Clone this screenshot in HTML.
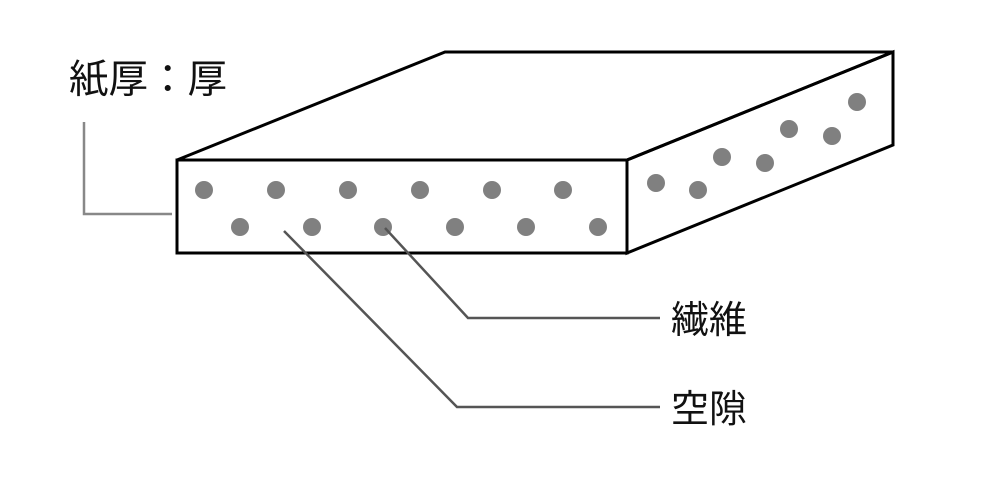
<!DOCTYPE html>
<html><head><meta charset="utf-8"><style>
html,body{margin:0;padding:0;background:#fff;}
svg{display:block}
text{font-family:"Liberation Sans","Noto Sans CJK JP",sans-serif;fill:#111;}
</style></head><body>
<svg width="990" height="495" viewBox="0 0 990 495" xmlns="http://www.w3.org/2000/svg">
<rect width="990" height="495" fill="#fff"/>
<g fill="none" stroke="#000" stroke-width="3" stroke-linejoin="miter">
<polygon points="177,160 445,52 893,52 627,160"/>
<polygon points="627,160 893,52 893,145 627,253"/>
<rect x="177" y="160" width="450" height="93"/>
</g>
<g fill="#808080">
<circle cx="204" cy="190" r="9"/><circle cx="276" cy="190" r="9"/><circle cx="348" cy="190" r="9"/>
<circle cx="420" cy="190" r="9"/><circle cx="492" cy="190" r="9"/><circle cx="563" cy="190" r="9"/>
<circle cx="240" cy="227" r="9"/><circle cx="312" cy="227" r="9"/><circle cx="383" cy="227" r="9"/>
<circle cx="455" cy="227" r="9"/><circle cx="526" cy="227" r="9"/><circle cx="598" cy="227" r="9"/>
<circle cx="656" cy="183" r="9"/><circle cx="698" cy="190" r="9"/><circle cx="722" cy="157" r="9"/>
<circle cx="765" cy="163" r="9"/><circle cx="789" cy="129" r="9"/><circle cx="832" cy="136" r="9"/>
<circle cx="857" cy="102" r="9"/>
</g>
<polyline points="84,122 84,214 172,214" fill="none" stroke="#888" stroke-width="2.5"/>
<polyline points="385,228 468,318 660,318" fill="none" stroke="#555" stroke-width="2.5"/>
<polyline points="284,231 457,407 660,407" fill="none" stroke="#555" stroke-width="2.5"/>
<text x="69" y="93" font-size="39.5">紙厚：厚</text>
<text x="671" y="333" font-size="38">繊維</text>
<text x="671" y="422" font-size="38">空隙</text>
</svg>
</body></html>
